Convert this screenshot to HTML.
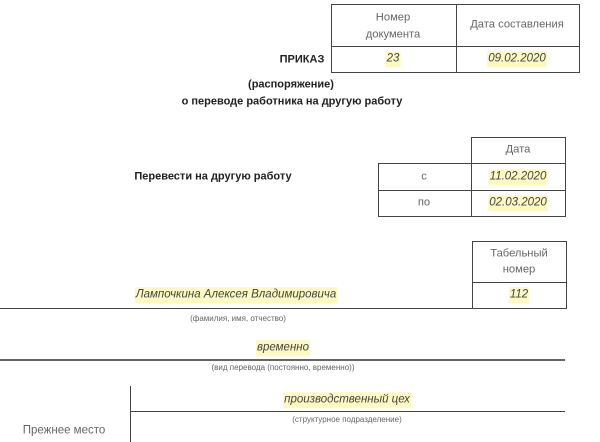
<!DOCTYPE html>
<html><head><meta charset="utf-8">
<style>
html,body{margin:0;padding:0;background:#fff;}
body{width:600px;height:442px;position:relative;overflow:hidden;font-family:"Liberation Sans",sans-serif;}
.t{position:absolute;transform:translate(-50%,-50%);white-space:nowrap;line-height:1;}
.b{font-weight:bold;font-size:11px;color:#222;}
.h{font-size:11.2px;color:#666;}
.v{font-size:11.5px;font-style:italic;color:#444;background:#fcf9c2;padding:2px 1px;}
.s{font-size:8px;color:#666;}
.hl{position:absolute;height:0;border-top:1px solid #444;}
.vl{position:absolute;width:0;border-left:1px solid #444;}
.box{position:absolute;border:1px solid #444;box-sizing:border-box;}
</style></head><body>

<!-- Table 1 -->
<div class="box" style="left:331px;top:4px;width:249px;height:69px;"></div>
<div class="hl" style="left:331px;top:46px;width:249px;"></div>
<div class="vl" style="left:456px;top:4px;height:69px;"></div>
<div class="t h" style="left:393px;top:18px;">Номер</div>
<div class="t h" style="left:393px;top:35px;">документа</div>
<div class="t h" style="left:517px;top:25px;">Дата составления</div>
<div class="t v" style="left:393px;top:59px;">23</div>
<div class="t v" style="left:517px;top:59px;">09.02.2020</div>

<div class="t b" style="left:302px;top:60px;">ПРИКАЗ</div>
<div class="t b" style="left:291px;top:85px;">(распоряжение)</div>
<div class="t b" style="left:292px;top:102px;">о переводе работника на другую работу</div>

<!-- Table 2 -->
<div class="box" style="left:471px;top:137px;width:95px;height:80px;"></div>
<div class="box" style="left:378px;top:163px;width:188px;height:54px;"></div>
<div class="hl" style="left:378px;top:190px;width:188px;"></div>
<div class="t h" style="left:518px;top:150px;">Дата</div>
<div class="t h" style="left:424px;top:177px;">с</div>
<div class="t v" style="left:518px;top:177px;">11.02.2020</div>
<div class="t h" style="left:424px;top:203px;">по</div>
<div class="t v" style="left:518px;top:203px;">02.03.2020</div>

<div class="t b" style="left:213px;top:177px;">Перевести на другую работу</div>

<!-- Table 3 -->
<div class="box" style="left:472px;top:241px;width:95px;height:68px;"></div>
<div class="hl" style="left:472px;top:282px;width:95px;"></div>
<div class="t h" style="left:519px;top:254px;">Табельный</div>
<div class="t h" style="left:519px;top:270px;">номер</div>
<div class="t v" style="left:519px;top:295px;">112</div>

<div class="t v" style="left:236px;top:295px;">Лампочкина Алексея Владимировича</div>
<div class="hl" style="left:0;top:308px;width:472px;"></div>
<div class="t s" style="left:238px;top:319px;">(фамилия, имя, отчество)</div>

<div class="t v" style="left:283px;top:348px;">временно</div>
<div class="hl" style="left:0;top:359px;width:565px;border-top:2px solid #666;"></div>
<div class="t s" style="left:283px;top:368px;">(вид перевода (постоянно, временно))</div>

<div class="vl" style="left:130px;top:386px;height:56px;"></div>
<div class="t v" style="left:347px;top:400px;">производственный цех</div>
<div class="hl" style="left:130px;top:411px;width:435px;"></div>
<div class="t s" style="left:347px;top:420px;">(структурное подразделение)</div>
<div class="t h" style="left:64px;top:431px;font-size:11.5px;">Прежнее место</div>

</body></html>
